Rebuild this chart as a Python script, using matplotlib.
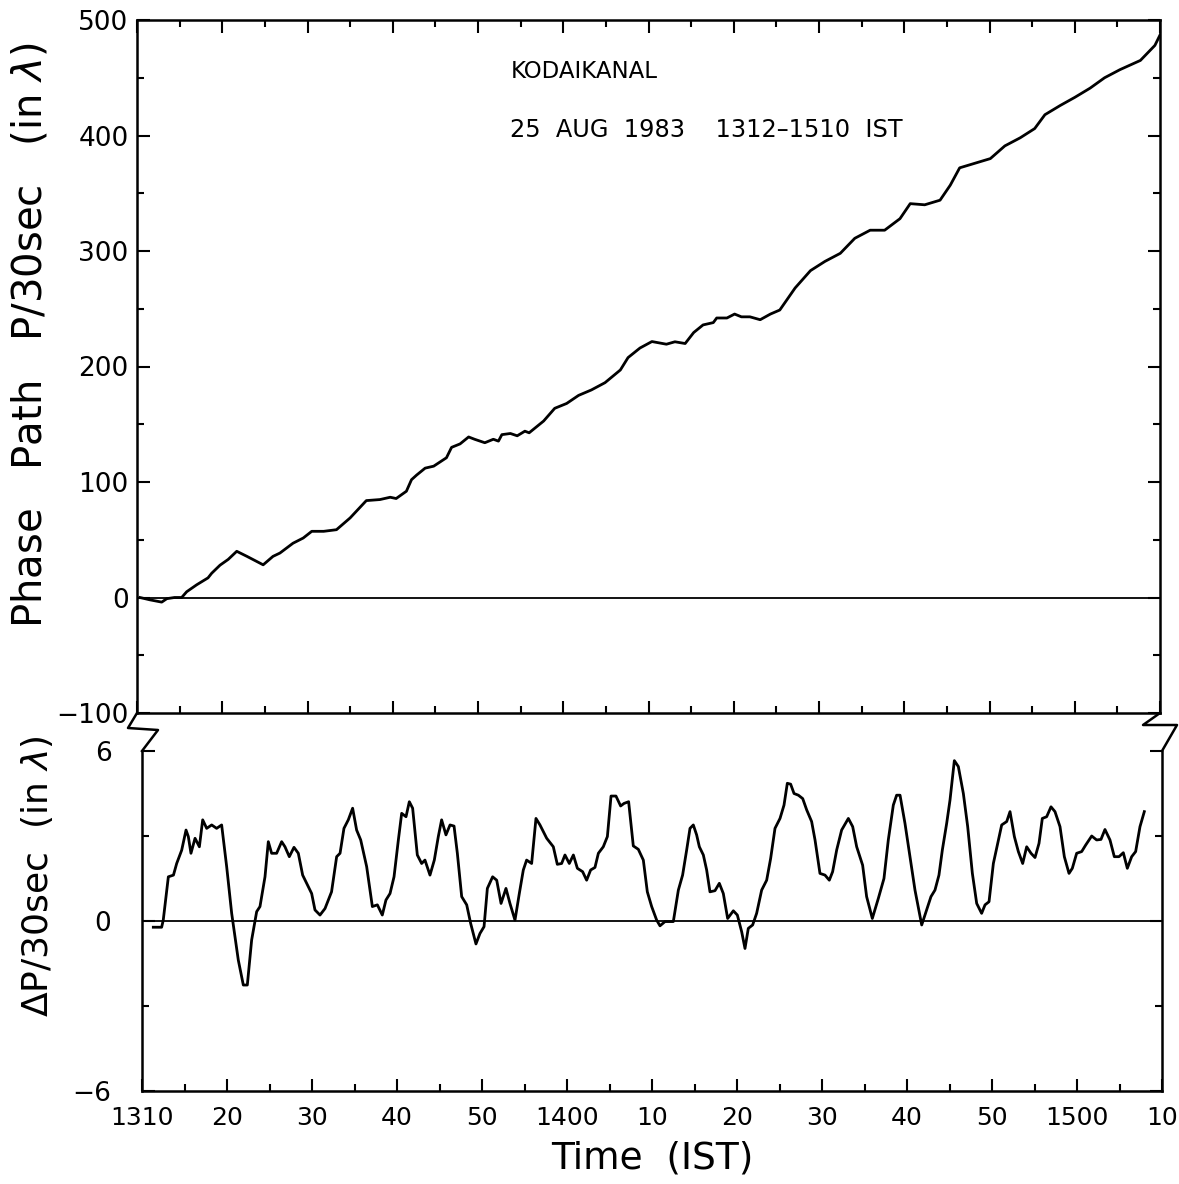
import matplotlib
matplotlib.use("Agg")
import matplotlib.pyplot as plt
from matplotlib.lines import Line2D

# ---------------- data (minutes after 1310 IST) ----------------
tick_labels = ["1310", "20", "30", "40", "50", "1400", "10",
               "20", "30", "40", "50", "1500", "10"]

# phase path P (in wavelengths)
pp_t = [0.35, 1.5, 2.9, 3.5, 4.4, 5.24, 5.83, 7.0, 8.33, 8.76, 9.74, 10.7, 11.7,
        12.9, 14.8, 15.95, 16.77, 18.3, 19.5, 20.5, 21.9, 23.4, 25.0, 26.9,
        28.5, 29.7, 30.4, 31.6, 32.2, 32.8, 33.8, 34.8, 36.3, 36.9, 37.9,
        38.9, 39.6, 40.8, 41.8, 42.4, 42.8, 43.8, 44.6, 45.5, 46.0, 47.7,
        49.0, 50.4, 51.8, 53.3, 54.9, 56.7, 57.6, 59.0, 60.4, 62.1, 63.1,
        64.3, 65.3, 66.4, 67.6, 68.0, 69.2, 70.1, 70.9, 71.9, 73.1, 74.3,
        75.4, 77.2, 79.0, 80.7, 82.5, 84.2, 86.0, 87.7, 89.5, 90.7, 92.4,
        94.2, 95.4, 96.5, 98.3, 100.1, 101.8, 103.6, 105.3, 106.5, 108.3,
        110.0, 111.8, 113.5, 115.3, 117.7, 119.4, 120.0]
pp_v = [0, -2, -4, -1, 0, 0, 5, 11, 17, 21, 28, 33, 40,
        35.6, 28.3, 35.6, 38.5, 47, 51.5, 57.3, 57.3, 58.7, 68.9, 83.9,
        84.8, 86.8, 85.7, 92, 102, 106, 112, 113.7, 121, 130, 133,
        139, 137, 134, 137, 135.4, 141, 142, 140, 144, 142.6, 152.8,
        163.8, 168, 175, 179.7, 186, 197, 207.7, 216, 221.6, 219.3, 221.4,
        219.9, 229.4, 236, 238, 242, 242, 245.4, 243, 243, 240.5, 245.4,
        248.9, 268, 283, 291, 298, 311, 318, 318, 328, 341, 340,
        344, 357, 372, 376, 380, 391, 398, 406, 418, 426,
        433, 441, 450, 457, 465, 478, 487]

# phase path change per 30 sec
dp_t = [1.33, 2.31, 2.5, 3.1, 3.7, 4.08, 4.67, 5.18, 5.45, 5.76, 6.24, 6.75, 7.14,
        7.61, 8.2, 8.78, 9.37, 9.96, 10.55, 11.33, 11.92, 12.39, 12.9, 13.49,
        13.88, 14.47, 14.86, 15.25, 15.84, 16.43, 16.82, 17.33, 17.88, 18.39,
        18.9, 19.37, 19.96, 20.35, 20.94, 21.53, 22.3, 22.9, 23.3, 23.76, 24.27,
        24.78, 25.25, 25.73, 26.43, 27.1, 27.69, 28.27, 28.7, 29.18, 29.65,
        30.16, 30.55, 31.06, 31.45, 31.84, 32.39, 32.9, 33.29, 33.88, 34.39,
        34.86, 35.25, 35.76, 36.24, 36.71, 37.1, 37.61, 38.2, 38.67, 39.29,
        39.76, 40.24, 40.63, 41.25, 41.73, 42.24, 42.82, 43.29, 43.88, 44.39,
        44.86, 45.25, 45.84, 46.35, 46.82, 47.61, 48.39, 48.86, 49.37, 49.76,
        50.27, 50.75, 51.22, 51.84, 52.31, 52.78, 53.29, 53.69, 54.27, 54.75,
        55.18, 55.76, 56.31, 56.71, 57.25, 57.8, 58.39, 58.98, 59.45, 59.96,
        60.55, 60.94, 61.53, 62.51, 63.1, 63.6, 64.08, 64.47, 64.86, 65.25,
        65.57, 66.04, 66.43, 66.82, 67.41, 67.92, 68.39, 68.9, 69.57, 70.04,
        70.55, 70.94, 71.33, 71.84, 72.31, 72.9, 73.49, 73.96, 74.47, 75.06,
        75.53, 75.92, 76.31, 76.71, 77.22, 77.73, 78.2, 78.78, 79.18, 79.76,
        80.35, 80.86, 81.25, 81.73, 82.31, 83.1, 83.61, 84.08, 84.78, 85.25,
        85.92, 86.63, 87.29, 87.8, 88.39, 88.78, 89.18, 89.76, 90.35, 90.94,
        91.73, 92.31, 92.82, 93.29, 93.76, 94.16, 94.67, 95.06, 95.57, 96.04,
        96.63, 97.14, 97.69, 98.2, 98.78, 99.18, 99.65, 100.16, 100.67, 101.14,
        101.73, 102.12, 102.63, 103.1, 103.61, 104.08, 104.59, 105.06, 105.53,
        105.92, 106.43, 106.94, 107.41, 108.0, 108.51, 109.06, 109.45, 109.96,
        110.55, 111.02, 111.73, 112.31, 112.82, 113.29, 113.88, 114.39, 114.94,
        115.45, 115.92, 116.43, 116.9, 117.41, 117.92]
dp_v = [-0.22, -0.22, 0.03, 1.56, 1.62, 2.03, 2.5, 3.21, 2.98, 2.39, 2.92, 2.62, 3.57,
        3.27, 3.39, 3.27, 3.39, 1.92, 0.27, -1.38, -2.26, -2.26, -0.67, 0.33,
        0.51, 1.56, 2.8, 2.39, 2.39, 2.8, 2.62, 2.27, 2.6, 2.39,
        1.62, 1.33, 0.97, 0.39, 0.21, 0.44, 1.03, 2.27, 2.39, 3.27, 3.57,
        3.98, 3.21, 2.86, 1.92, 0.51, 0.57, 0.21, 0.74, 0.97, 1.56,
        2.86, 3.8, 3.68, 4.21, 3.98, 2.33, 2.03, 2.15, 1.62, 2.15,
        2.98, 3.57, 3.04, 3.39, 3.35, 2.39, 0.86, 0.57, -0.09, -0.81,
        -0.44, -0.2, 1.15, 1.56, 1.44, 0.62, 1.15, 0.62, 0.03, 0.97,
        1.8, 2.15, 2.03, 3.62, 3.39, 2.92, 2.62, 2.0, 2.03, 2.33,
        2.03, 2.33, 1.86, 1.74, 1.44, 1.8, 1.89, 2.39, 2.62, 2.98,
        4.41, 4.41, 4.06, 4.15, 4.21, 2.65, 2.53, 2.15, 1.03, 0.51,
        0.03, -0.17, -0.02, -0.02, 1.09, 1.62, 2.51, 3.27, 3.39, 3.04,
        2.62, 2.33, 1.8, 1.03, 1.07, 1.33, 0.97, 0.09, 0.36, 0.21,
        -0.38, -0.97, -0.26, -0.14, 0.27, 1.09, 1.44, 2.21, 3.27, 3.62,
        4.09, 4.86, 4.83, 4.5, 4.44, 4.32, 3.92, 3.51, 2.86, 1.68,
        1.62, 1.44, 1.74, 2.51, 3.21, 3.62, 3.33, 2.62, 1.97, 0.86,
        0.09, 0.8, 1.5, 2.86, 4.09, 4.44, 4.44, 3.45, 2.27, 1.09,
        -0.14, 0.39, 0.86, 1.09, 1.62, 2.51, 3.45, 4.27, 5.66, 5.45,
        4.5, 3.33, 1.68, 0.62, 0.27, 0.57, 0.68, 2.03, 2.74, 3.39,
        3.51, 3.86, 2.98, 2.45, 2.03, 2.62, 2.39, 2.24, 2.74,
        3.62, 3.68, 4.03, 3.86, 3.33, 2.27, 1.68, 1.86, 2.39,
        2.45, 2.68, 3.0, 2.86, 2.88, 3.23, 2.86, 2.27, 2.27,
        2.41, 1.86, 2.27, 2.45, 3.33, 3.86]

# ---------------- figure ----------------
W, H = 1179, 1184
fig = plt.figure(figsize=(W / 100, H / 100), dpi=100)
plt.rcParams['font.family'] = ['DejaVu Sans']


def px(x0, y0, x1, y1):
    # pixel box (left, top, right, bottom) -> figure rect
    return [x0 / W, 1 - y1 / H, (x1 - x0) / W, (y1 - y0) / H]


ax1 = fig.add_axes(px(137, 20, 1160, 713))
ax2 = fig.add_axes(px(142, 751, 1162, 1091))

lw_data = 2.0
for ax in (ax1, ax2):
    for s in ax.spines.values():
        s.set_linewidth(1.8)
    ax.set_xlim(0, 120)
    ax.set_xticks(range(0, 121, 10))
    ax.set_xticks(range(5, 120, 10), minor=True)
    ax.tick_params(which="both", direction="in", top=True, right=True,
                   width=1.5, labelsize=19, pad=6)
    ax.tick_params(which="major", length=9)
    ax.tick_params(which="minor", length=5)

# top panel
ax1.plot(pp_t, pp_v, color="black", lw=lw_data)
ax1.axhline(0, color="black", lw=1.3)
ax1.set_ylim(-100, 500)
ax1.set_yticks(range(-100, 501, 100))
ax1.set_yticks(range(-50, 500, 100), minor=True)
ax1.set_xticklabels([])
ax1.set_ylabel("Phase   Path   P/30sec   (in $\\lambda$)", fontsize=29)
ax1.yaxis.set_label_coords(-0.085, 0.545)
ax1.text(0.365, 0.925, "KODAIKANAL", transform=ax1.transAxes,
         fontsize=16.5, va="center")
ax1.text(0.365, 0.841, "25  AUG  1983    1312\u20131510  IST",
         transform=ax1.transAxes, fontsize=17.3, va="center")

# bottom panel
ax2.plot(dp_t, dp_v, color="black", lw=lw_data)
ax2.axhline(0, color="black", lw=1.3)
ax2.set_ylim(-6, 6)
ax2.set_yticks([-6, 0, 6])
ax2.set_yticks([-3, 3], minor=True)
ax2.spines["top"].set_visible(False)
ax2.tick_params(top=False, which="both")
ax2.tick_params(axis="y", pad=22)
ax2.tick_params(axis="x", pad=11, labelsize=18)
ax2.set_xticklabels(tick_labels)
ax2.set_ylabel("$\\Delta$P/30sec  (in $\\lambda$)", fontsize=26)
ax2.yaxis.set_label_coords(-0.085, 0.63)
ax2.set_xlabel("Time  (IST)", fontsize=27)
ax2.xaxis.set_label_coords(0.5, -0.145)

# axis-break zigzags
for pts in ([(137, 713), (128, 728), (158, 730), (142, 751)],
            [(1160, 713), (1143, 725), (1177, 725), (1162, 751)]):
    xs = [p[0] / W for p in pts]
    ys = [1 - p[1] / H for p in pts]
    fig.add_artist(Line2D(xs, ys, transform=fig.transFigure, color="black", lw=1.8))

fig.savefig("out.png", dpi=100)
